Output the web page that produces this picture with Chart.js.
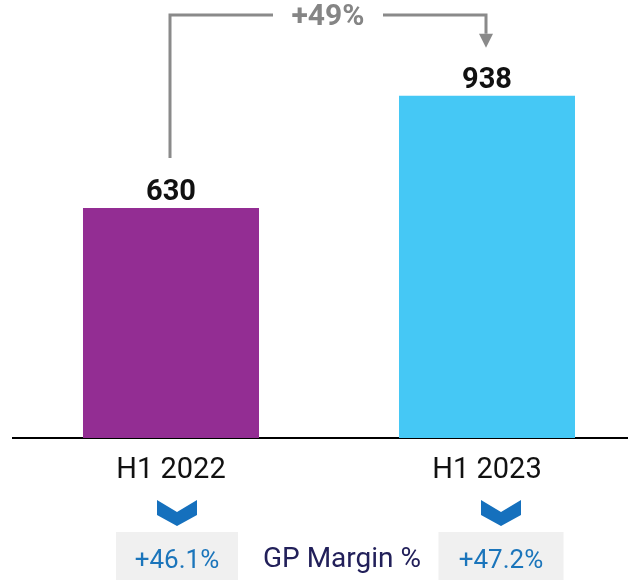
<!DOCTYPE html>
<html>
<head>
<meta charset="utf-8">
<script src="https://cdn.jsdelivr.net/npm/chart.js@4"></script>
<style>
  body { margin: 0; overflow: hidden; background: #fff; }
  #wrap { position: relative; width: 648px; height: 580px; }
</style>
</head>
<body>
<div id="wrap"><canvas id="myChart"></canvas></div>
<script>
const labels = ["H1 2022", "H1 2023"];
const values = [630, 938];
const barColors = ["#932D93", "#45C8F5"];
const margins = ["+46.1%", "+47.2%"];
const growth = "+49%";
const marginTitle = "GP Margin %";

const FONT = "Roboto, 'DejaVu Sans', sans-serif";

// labels, bracket arrow, chevrons and margin boxes
const extras = {
  id: "extras",
  afterDraw(chart) {
    const c = chart.ctx;
    const bars = chart.getDatasetMeta(0).data;
    c.save();

    // value labels
    c.fillStyle = "#111";
    c.font = "bold 29px " + FONT;
    c.textAlign = "center";
    c.textBaseline = "alphabetic";
    bars.forEach((b, i) => c.fillText(values[i], b.x, b.y - 8));

    // growth bracket
    const x1 = bars[0].x - 1, x2 = bars[1].x - 1, topY = 15;
    const mid = (x1 + x2) / 2;
    c.strokeStyle = "#8A8A8A";
    c.lineWidth = 3;
    c.beginPath();
    c.moveTo(x1, bars[0].y - 50);
    c.lineTo(x1, topY);
    c.lineTo(mid - 55, topY);
    c.moveTo(mid + 55, topY);
    c.lineTo(x2, topY);
    c.lineTo(x2, bars[1].y - 62);
    c.stroke();
    c.fillStyle = "#8A8A8A";
    c.beginPath();
    c.moveTo(x2 - 7, bars[1].y - 62);
    c.lineTo(x2 + 7, bars[1].y - 62);
    c.lineTo(x2, bars[1].y - 48);
    c.closePath();
    c.fill();
    c.fillStyle = "#858585";
    c.font = "bold 30px " + FONT;
    c.textBaseline = "middle";
    c.fillText(growth, mid, topY + 2);

    // chevrons + margin boxes
    const offs = [6, 14];
    const boxW = [122, 125];
    bars.forEach((b, i) => {
      const cx = b.x + offs[i];
      c.fillStyle = "#1570BD";
      c.beginPath();
      c.moveTo(cx - 20, 500);
      c.lineTo(cx, 512);
      c.lineTo(cx + 20, 500);
      c.lineTo(cx + 20, 515);
      c.lineTo(cx, 526);
      c.lineTo(cx - 20, 515);
      c.closePath();
      c.fill();

      c.fillStyle = "#F0F0F0";
      c.fillRect(cx - boxW[i] / 2, 532, boxW[i], 48);
      c.fillStyle = "#1B75BB";
      c.font = "26px " + FONT;
      c.textBaseline = "middle";
      c.fillText(margins[i], cx, 561);
    });

    c.fillStyle = "#22205A";
    c.font = "28px " + FONT;
    c.fillText(marginTitle, (bars[0].x + bars[1].x) / 2 + 13, 560);

    c.restore();
  }
};

const ctx = document.getElementById("myChart");
const myChart = new Chart(ctx, {
  type: "bar",
  data: {
    labels: labels,
    datasets: [{
      data: values,
      backgroundColor: barColors,
      categoryPercentage: 1,
      barPercentage: 0.557
    }]
  },
  options: {
    responsive: true,
    maintainAspectRatio: false,
    animation: false,
    layout: { padding: { left: 13, right: 3, top: 0, bottom: 0 } },
    plugins: {
      legend: { display: false },
      tooltip: { enabled: false }
    },
    scales: {
      y: { display: false, min: 0, max: 1200 },
      x: {
        offset: true,
        grid: { display: false },
        border: { display: true, color: "#000", width: 2 },
        ticks: {
          color: "#111",
          padding: 7,
          font: { family: FONT, size: 29 }
        },
        afterFit(scale) { scale.height = 142; }
      }
    }
  },
  plugins: [extras]
});
</script>
</body>
</html>
